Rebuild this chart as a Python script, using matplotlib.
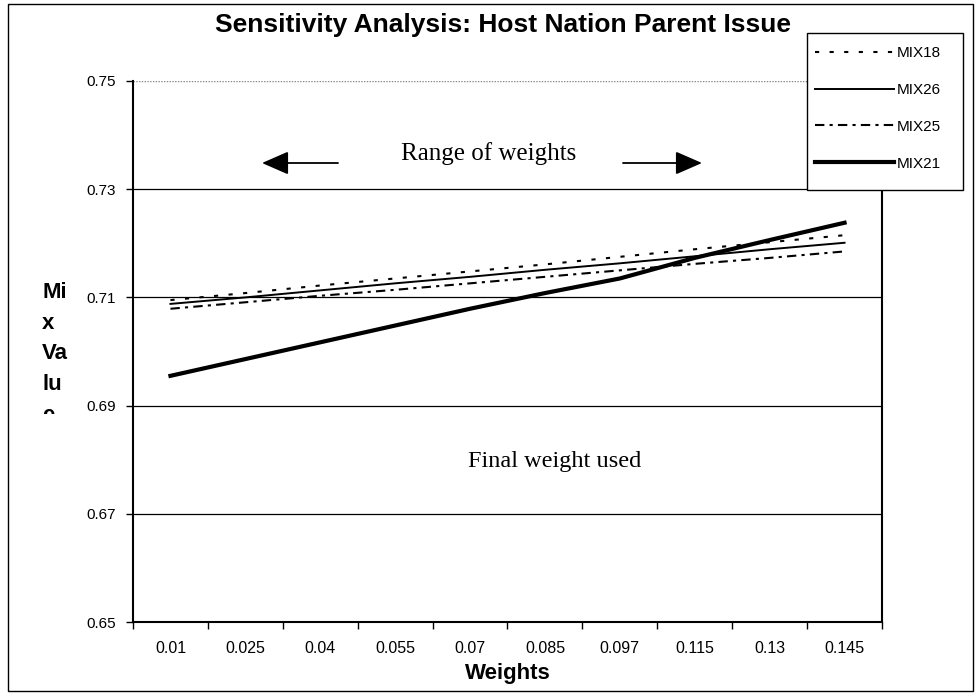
import matplotlib
matplotlib.use("Agg")
import matplotlib.pyplot as plt
from matplotlib.patches import Rectangle
from matplotlib.transforms import Bbox

weights = ["0.01", "0.025", "0.04", "0.055", "0.07", "0.085", "0.097", "0.115", "0.13", "0.145"]
mix18 = [0.7095, 0.7108, 0.7122, 0.7135, 0.7148, 0.7161, 0.7175, 0.7189, 0.7202, 0.7215]
mix26 = [0.7088, 0.7100, 0.7113, 0.7126, 0.7138, 0.7151, 0.7163, 0.7176, 0.7189, 0.7201]
mix25 = [0.7079, 0.7091, 0.7103, 0.7114, 0.7126, 0.7138, 0.7150, 0.7162, 0.7173, 0.7185]
mix21 = [0.6955, 0.6986, 0.7017, 0.7048, 0.7079, 0.7108, 0.7135, 0.7173, 0.7206, 0.7238]
series_names = ["MIX18", "MIX26", "MIX25", "MIX21"]
yticks = [0.65, 0.67, 0.69, 0.71, 0.73, 0.75]
ylabel_lines = ["Mi", "x", "Va", "lu", "e"]

plt.rcParams['font.family'] = ['Liberation Sans', 'DejaVu Sans']

W, H = 978, 698
fig = plt.figure(figsize=(W / 100, H / 100), dpi=100)
ax = fig.add_axes([133 / W, 1 - 622 / H, (882 - 133) / W, (622 - 81) / H])

x = list(range(len(weights)))
l18, = ax.plot(x, mix18, color='black', lw=1.5, linestyle=(0, (2, 5)))
l26, = ax.plot(x, mix26, color='black', lw=1.4, linestyle='-')
l25, = ax.plot(x, mix25, color='black', lw=1.5, linestyle=(0, (4.5, 2.5, 1.5, 2.5)))
l21, = ax.plot(x, mix21, color='black', lw=3.0, linestyle='-')

ax.set_xlim(-0.5, len(weights) - 0.5)
ax.set_ylim(0.65, 0.75)
ax.set_yticks(yticks)
ax.set_yticklabels([f"{v:.2f}" for v in yticks], fontsize=11)
ax.set_xticks(x)
ax.set_xticklabels(weights, fontsize=11.5)
ax.tick_params(axis='x', length=0, pad=14)
ax.tick_params(axis='y', length=5, width=1, pad=7, direction='out')
ax.set_xticks([i - 0.5 for i in range(len(weights) + 1)], minor=True)
ax.tick_params(axis='x', which='minor', length=5, width=1, direction='out')

for v in yticks[1:-1]:
    ax.axhline(v, color='black', lw=0.9, zorder=0.5)
ax.axhline(0.75, color='#888888', lw=1.0, linestyle=(0, (1, 1)), zorder=0.5)

for s in ['left', 'bottom', 'right']:
    ax.spines[s].set_linewidth(1.5)
    ax.spines[s].set_color('black')
ax.spines['top'].set_visible(False)

ax.set_xlabel("Weights", fontsize=16, fontweight='bold', labelpad=5)

# y label, one short line under another, cut off at the bottom like the original
clip = Bbox.from_extents(0, H - 414, W, H - 250)
for i, txt in enumerate(ylabel_lines):
    t = fig.text(42 / W, 1 - (298 + 30.7 * i) / H, txt, fontsize=16, fontweight='bold',
                 ha='left', va='baseline')
    t.set_clip_box(clip)
    t.set_clip_on(True)

# title
fig.text(503 / W, 1 - 32 / H, "Sensitivity Analysis: Host Nation Parent Issue", fontsize=19,
         fontweight='bold', ha='center', va='baseline')

# annotations
fig.text(489 / W, 1 - 160 / H, "Range of weights", fontsize=18,
         family='Liberation Serif', ha='center', va='baseline')
fig.text(555 / W, 1 - 467 / H, "Final weight used", fontsize=17.5,
         family='Liberation Serif', ha='center', va='baseline')
arrow_kw = dict(arrowstyle='-|>,head_length=1.65,head_width=0.72', color='black', lw=1.3,
                shrinkA=0, shrinkB=0)
ax.annotate("", xy=(262, H - 163), xytext=(338, H - 163), xycoords='figure pixels',
            textcoords='figure pixels', arrowprops=arrow_kw)
ax.annotate("", xy=(702, H - 163), xytext=(623, H - 163), xycoords='figure pixels',
            textcoords='figure pixels', arrowprops=arrow_kw)

# legend box
fig.patches.append(Rectangle((807 / W, 1 - 190 / H), (963 - 807) / W, (190 - 33) / H,
                             transform=fig.transFigure, facecolor='white',
                             edgecolor='black', lw=1.0, zorder=3))
leg = fig.legend([l18, l26, l25, l21], series_names,
                 loc='upper left', bbox_to_anchor=(815 / W, 1 - 46 / H), fontsize=11,
                 frameon=False, handlelength=5.15, handletextpad=0.2, labelspacing=1.5,
                 borderpad=0, borderaxespad=0)
leg.set_zorder(4)

# outer border
fig.patches.append(Rectangle((8 / W, 1 - 691 / H), (973 - 8) / W, (691 - 4) / H,
                             transform=fig.transFigure, fill=False, edgecolor='black',
                             lw=1.0, zorder=5))

fig.savefig("out.png", dpi=100)
